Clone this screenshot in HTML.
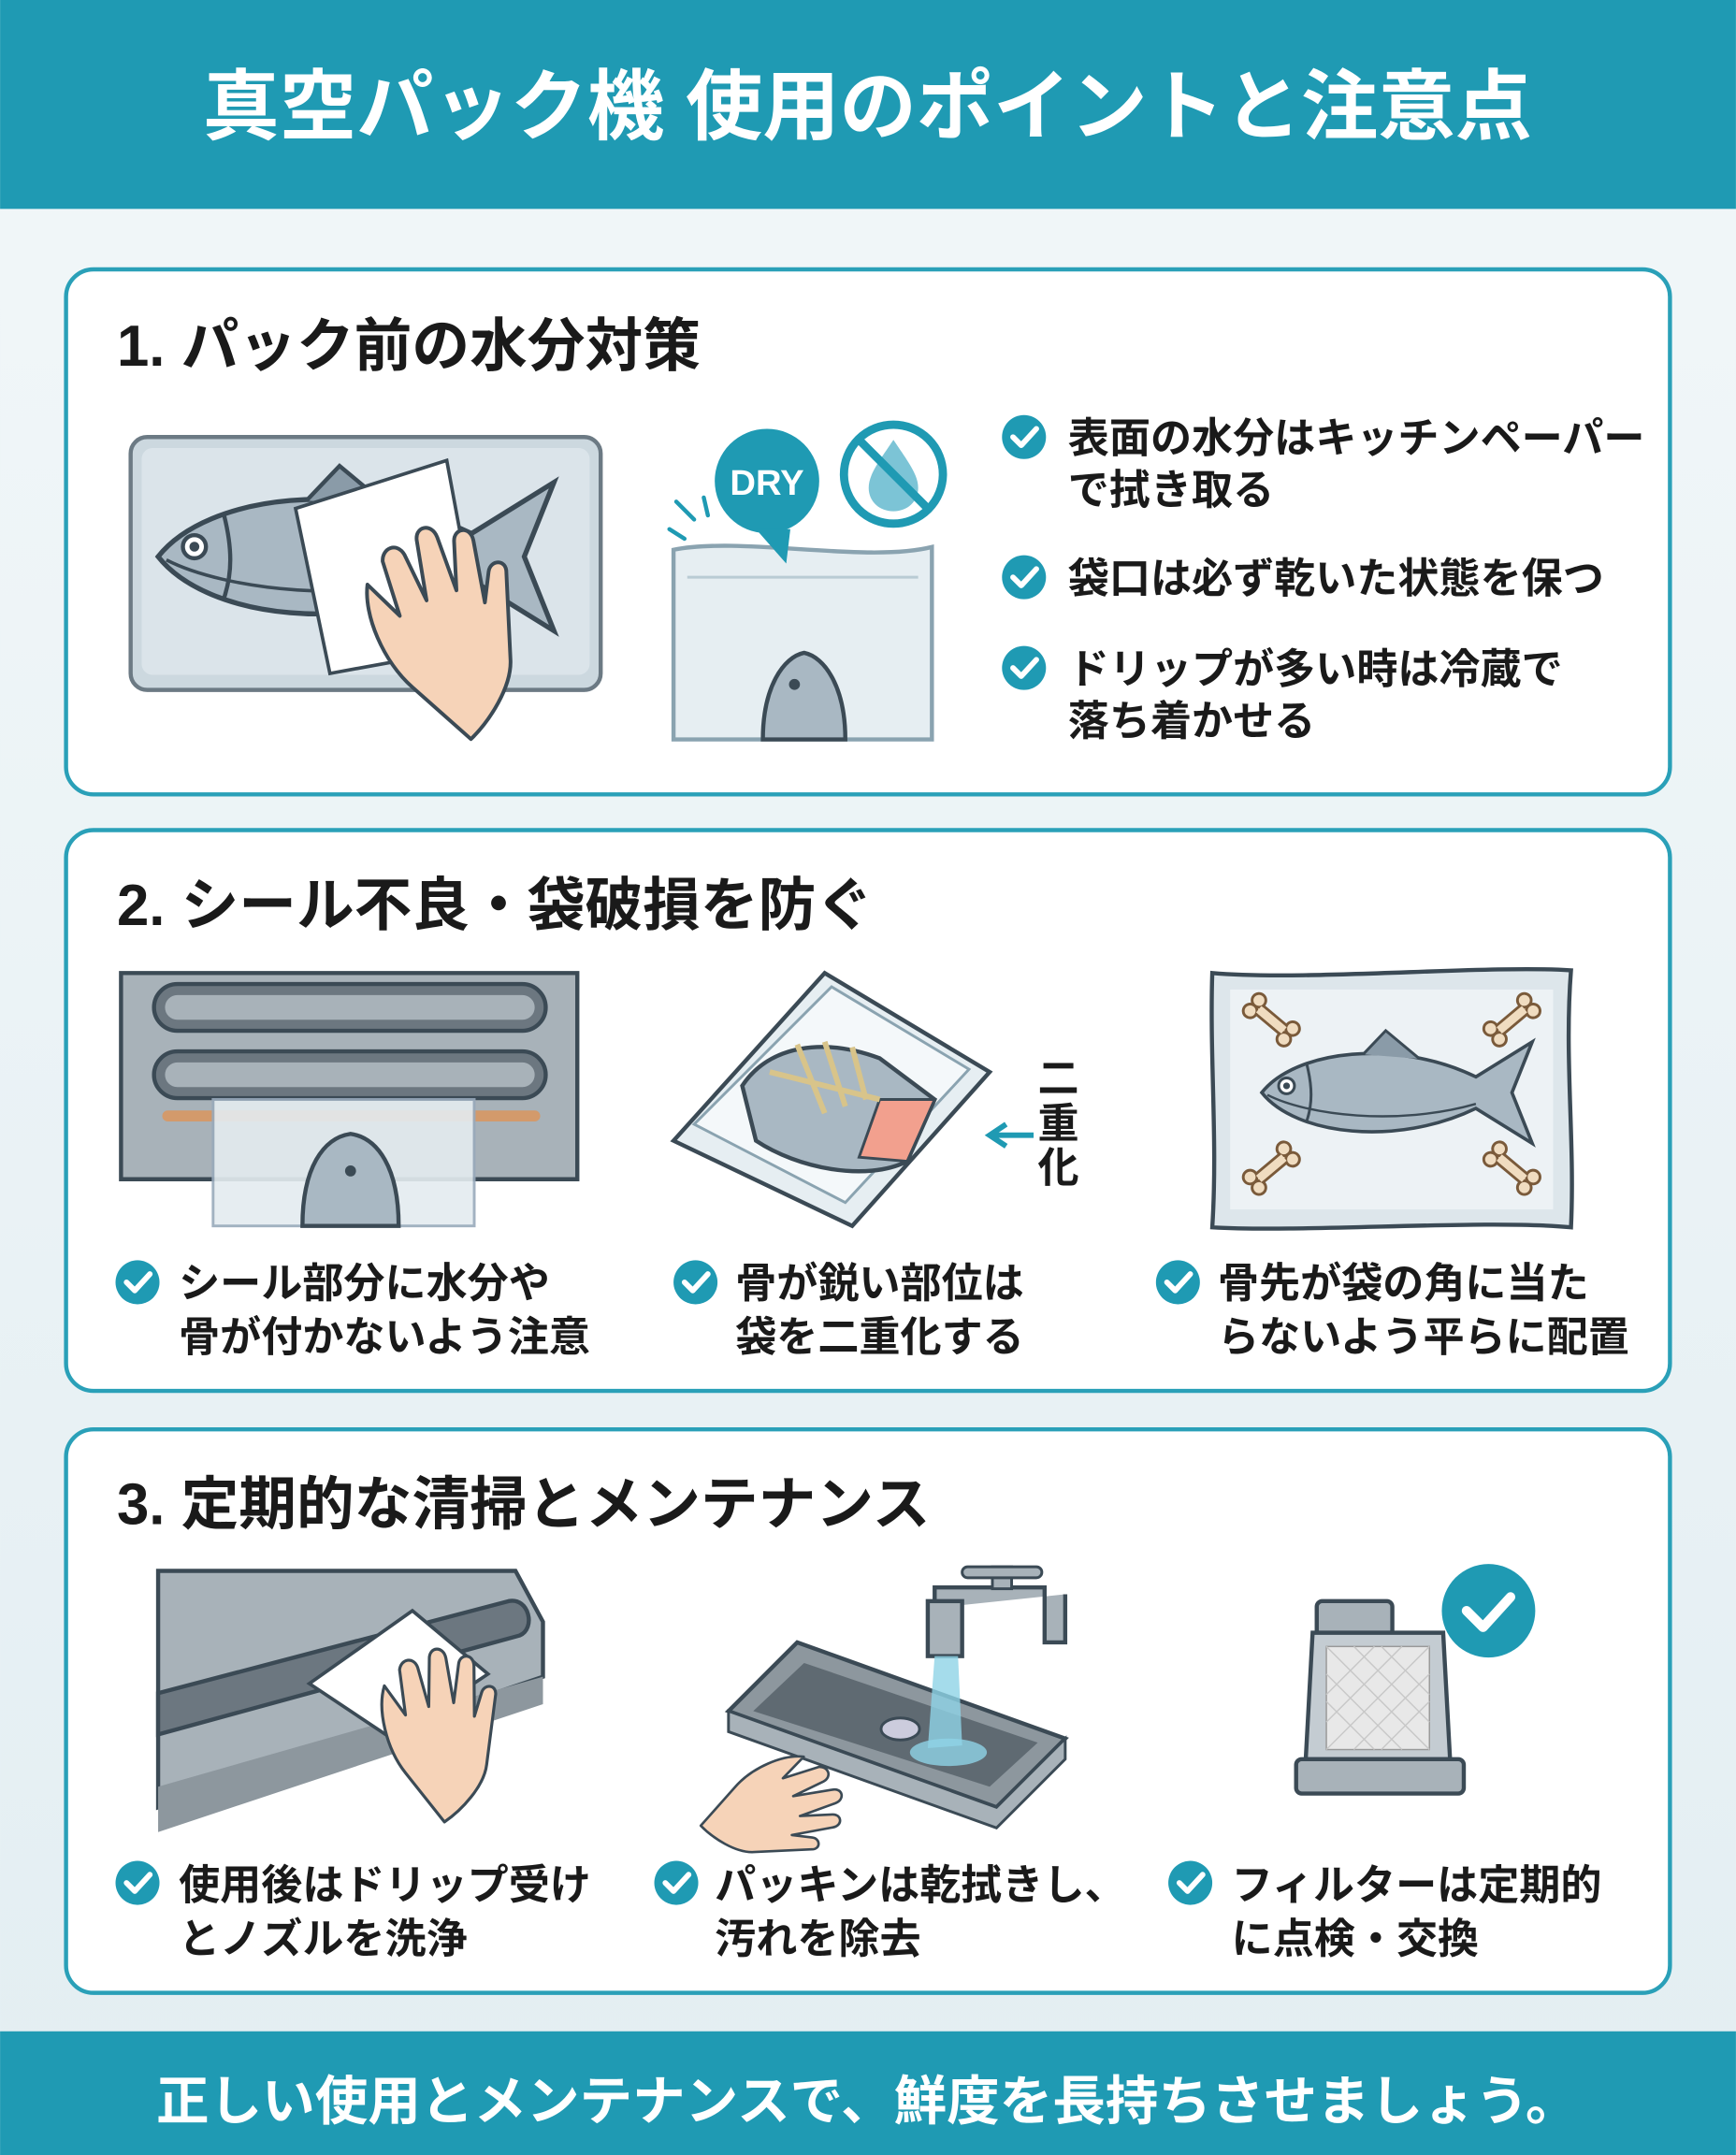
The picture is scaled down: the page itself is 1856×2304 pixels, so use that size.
<!DOCTYPE html>
<html><head><meta charset="utf-8"><style>
html,body{margin:0;padding:0;width:1856px;height:2304px;overflow:hidden;background:#eaf3f6}
svg{display:block}
text{font-family:"Liberation Sans","Noto Sans CJK JP",sans-serif;font-weight:bold}
</style></head><body>
<svg width="1856" height="2304" viewBox="0 0 1263 1568" xmlns="http://www.w3.org/2000/svg">
<defs>
<linearGradient id="bg" x1="0" y1="0" x2="0" y2="1"><stop offset="0" stop-color="#f2f7f9"/><stop offset="1" stop-color="#e3eef2"/></linearGradient>
<g id="fish">
<path d="M0,0 C30,-38 120,-48 190,-14 L240,-45 L222,0 L240,45 L190,14 C120,48 30,38 0,0 Z" fill="#a9b8c3" stroke="#3b4a55" stroke-width="3"/>
<path d="M5,2 C40,20 120,30 190,10" fill="none" stroke="#3b4a55" stroke-width="2"/>
<path d="M40,-25 C45,-5 45,10 40,25" fill="none" stroke="#3b4a55" stroke-width="2.5"/>
<path d="M90,-34 L110,-55 L140,-30" fill="#8a9ba8" stroke="#3b4a55" stroke-width="2.5"/>
<circle cx="22" cy="-6" r="7" fill="#fff" stroke="#3b4a55" stroke-width="2.5"/><circle cx="22" cy="-6" r="3" fill="#3b4a55"/>
</g>
<g id="chk"><circle r="16" fill="#1f9ab3"/><path d="M-8,0 L-2,6 L9,-6" fill="none" stroke="#fff" stroke-width="4" stroke-linecap="round" stroke-linejoin="round"/></g>
<g id="bone"><rect x="-14" y="-4" width="28" height="8" fill="#f0dcc0" stroke="#7a5a3a" stroke-width="2"/><circle cx="-16" cy="-5" r="5" fill="#f0dcc0" stroke="#7a5a3a" stroke-width="2"/><circle cx="-16" cy="5" r="5" fill="#f0dcc0" stroke="#7a5a3a" stroke-width="2"/><circle cx="16" cy="-5" r="5" fill="#f0dcc0" stroke="#7a5a3a" stroke-width="2"/><circle cx="16" cy="5" r="5" fill="#f0dcc0" stroke="#7a5a3a" stroke-width="2"/><rect x="-12" y="-3" width="24" height="6" fill="#f0dcc0"/></g>
<g id="hand"><path d="M0,0 C-10,-30 -5,-70 10,-90 L20,-55 L30,-100 C35,-110 48,-108 48,-96 L45,-55 L62,-100 C66,-112 80,-108 78,-95 L70,-50 L88,-85 C93,-95 106,-90 102,-78 L85,-30 L100,-50 C106,-58 118,-52 112,-42 L80,20 C70,40 40,55 20,60 Z" fill="#f6d3b8" stroke="#3b4a55" stroke-width="3" stroke-linejoin="round"/></g>
</defs>
<rect width="1263" height="1568" fill="url(#bg)"/>
<rect x="0" y="0" width="1263" height="152" fill="#1f9ab3"/>
<text x="631" y="97" font-size="56" fill="#fff" text-anchor="middle">真空パック機 使用のポイントと注意点</text>

<!-- Card 1 -->
<rect x="48" y="196" width="1167" height="382" rx="20" fill="#fff" stroke="#2aa0b8" stroke-width="3"/>
<text x="85" y="266" font-size="42" fill="#1a1a1a">1. パック前の水分対策</text>
<rect x="95" y="318" width="342" height="184" rx="12" fill="#ccd8df" stroke="#6c7a84" stroke-width="3"/>
<rect x="103" y="326" width="326" height="165" rx="8" fill="#dbe4ea"/>
<use href="#fish" transform="translate(115,405) scale(1.2)"/>
<path d="M215,370 L325,335 L350,470 L240,490 Z" fill="#fff" stroke="#3b4a55" stroke-width="2.5"/>
<use href="#hand" transform="translate(300,500) rotate(-30) scale(0.9)"/>
<path d="M490,400 C540,390 630,410 678,398 L678,538 L490,538 Z" fill="#e6eef2" stroke="#8aa3b0" stroke-width="3"/>
<path d="M500,420 L668,420" stroke="#b9cbd4" stroke-width="2"/>
<path d="M555,538 C555,500 570,478 585,475 C600,478 615,500 615,538 Z" fill="#a9b8c3" stroke="#3b4a55" stroke-width="3"/>
<circle cx="578" cy="498" r="4" fill="#3b4a55"/>
<path d="M487,385 L498,392 M492,365 L505,378 M512,362 L515,375" stroke="#1f9ab3" stroke-width="3" stroke-linecap="round"/>
<circle cx="558" cy="350" r="38" fill="#1f9ab3"/><path d="M550,385 L572,410 L575,385 Z" fill="#1f9ab3"/>
<text x="558" y="360" font-size="26" fill="#fff" text-anchor="middle">DRY</text>
<circle cx="650" cy="345" r="36" fill="#fff" stroke="#1f9ab3" stroke-width="6"/>
<path d="M650,320 C640,335 632,345 632,355 C632,365 640,372 650,372 C660,372 668,365 668,355 C668,345 660,335 650,320 Z" fill="#7cc4d6"/>
<path d="M625,320 L675,370" stroke="#1f9ab3" stroke-width="6"/>
<use href="#chk" transform="translate(745,318)"/>
<text x="777" y="329" font-size="30" fill="#1a1a1a">表面の水分はキッチンペーパー</text>
<text x="777" y="367" font-size="30" fill="#1a1a1a">で拭き取る</text>
<use href="#chk" transform="translate(745,420)"/>
<text x="777" y="431" font-size="30" fill="#1a1a1a">袋口は必ず乾いた状態を保つ</text>
<use href="#chk" transform="translate(745,486)"/>
<text x="777" y="497" font-size="30" fill="#1a1a1a">ドリップが多い時は冷蔵で</text>
<text x="777" y="535" font-size="30" fill="#1a1a1a">落ち着かせる</text>

<!-- Card 2 -->
<rect x="48" y="604" width="1167" height="408" rx="20" fill="#fff" stroke="#2aa0b8" stroke-width="3"/>
<text x="85" y="673" font-size="42" fill="#1a1a1a">2. シール不良・袋破損を防ぐ</text>
<path d="M88,708 L420,708 L420,858 L88,858 Z" fill="#a8b2b9" stroke="#3b4a55" stroke-width="3"/>
<rect x="112" y="716" width="285" height="34" rx="17" fill="#6c7780" stroke="#3b4a55" stroke-width="3"/>
<rect x="120" y="724" width="269" height="18" rx="9" fill="#a8b2b9"/>
<rect x="112" y="765" width="285" height="34" rx="17" fill="#6c7780" stroke="#3b4a55" stroke-width="3"/>
<rect x="120" y="773" width="269" height="18" rx="9" fill="#a8b2b9"/>
<rect x="118" y="808" width="275" height="8" rx="4" fill="#d39a6b"/>
<rect x="155" y="800" width="190" height="92" fill="#e4ecf0" opacity="0.9" stroke="#9ab" stroke-width="2"/>
<path d="M220,892 C220,850 235,828 255,825 C275,828 290,850 290,892 Z" fill="#a9b8c3" stroke="#3b4a55" stroke-width="3"/>
<circle cx="255" cy="852" r="4" fill="#3b4a55"/>
<path d="M490,830 L600,708 L720,780 L620,892 Z" fill="#e6eef2" stroke="#3b4a55" stroke-width="3"/>
<path d="M505,818 L605,718 L705,778 L615,875 Z" fill="#f4f8fa" stroke="#8aa3b0" stroke-width="2"/>
<path d="M540,790 C560,760 600,755 640,770 L680,800 L660,845 C630,860 580,850 550,830 Z" fill="#a9b8c3" stroke="#3b4a55" stroke-width="3"/>
<path d="M640,800 L680,800 L660,845 L625,842 Z" fill="#f2a08e" stroke="#3b4a55" stroke-width="2"/>
<path d="M560,780 L640,800 M580,760 L600,810 M600,758 L615,805 M620,762 L630,800" stroke="#d8c48a" stroke-width="4"/>
<text x="770" y="795" font-size="30" fill="#1a1a1a" text-anchor="middle">二</text>
<text x="770" y="828" font-size="30" fill="#1a1a1a" text-anchor="middle">重</text>
<text x="770" y="860" font-size="30" fill="#1a1a1a" text-anchor="middle">化</text>
<path d="M752,826 L722,826 M732,818 L720,826 L732,834" fill="none" stroke="#1f9ab3" stroke-width="4"/>
<path d="M882,708 C950,714 1080,702 1143,706 C1138,770 1146,830 1143,893 C1080,887 950,897 882,893 C886,830 880,770 882,708 Z" fill="#dde6eb" stroke="#3b4a55" stroke-width="3"/>
<rect x="895" y="720" width="235" height="160" fill="#edf2f5"/>
<use href="#fish" transform="translate(918,795) scale(0.82)"/>
<use href="#bone" transform="translate(925,742) rotate(40)"/>
<use href="#bone" transform="translate(1100,742) rotate(-40)"/>
<use href="#bone" transform="translate(925,850) rotate(-40)"/>
<use href="#bone" transform="translate(1100,850) rotate(40)"/>
<use href="#chk" transform="translate(100,933)"/>
<text x="130" y="944" font-size="30" fill="#1a1a1a">シール部分に水分や</text>
<text x="130" y="983" font-size="30" fill="#1a1a1a">骨が付かないよう注意</text>
<use href="#chk" transform="translate(506,933)"/>
<text x="535" y="944" font-size="30" fill="#1a1a1a">骨が鋭い部位は</text>
<text x="535" y="983" font-size="30" fill="#1a1a1a">袋を二重化する</text>
<use href="#chk" transform="translate(857,933)"/>
<text x="886" y="944" font-size="30" fill="#1a1a1a">骨先が袋の角に当た</text>
<text x="886" y="983" font-size="30" fill="#1a1a1a">らないよう平らに配置</text>

<!-- Card 3 -->
<rect x="48" y="1040" width="1167" height="410" rx="20" fill="#fff" stroke="#2aa0b8" stroke-width="3"/>
<text x="85" y="1109" font-size="42" fill="#1a1a1a">3. 定期的な清掃とメンテナンス</text>
<path d="M115,1143 L375,1143 L395,1180 L395,1220 L115,1315 Z" fill="#a8b2b9" stroke="#3b4a55" stroke-width="3"/>
<path d="M115,1232 L370,1165 C385,1162 390,1185 378,1190 L115,1262 Z" fill="#6c7780" stroke="#3b4a55" stroke-width="3"/>
<path d="M115,1300 L395,1220 L395,1240 L115,1333 Z" fill="#8d979e"/>
<path d="M225,1225 L300,1172 L355,1218 L285,1265 Z" fill="#fff" stroke="#3b4a55" stroke-width="2.5"/>
<use href="#hand" transform="translate(295,1290) rotate(-20) scale(0.72)"/>
<path d="M530,1245 L580,1195 L775,1265 L725,1315 Z" fill="#8d979e" stroke="#3b4a55" stroke-width="3"/>
<path d="M548,1245 L585,1210 L755,1268 L720,1300 Z" fill="#5f6a72"/>
<path d="M530,1245 L530,1260 L725,1330 L775,1280 L775,1265 L725,1315 Z" fill="#a8b2b9" stroke="#3b4a55" stroke-width="2"/>
<ellipse cx="655" cy="1258" rx="14" ry="8" fill="#ccd" stroke="#3b4a55" stroke-width="2"/>
<path d="M680,1170 L680,1155 L760,1155 L760,1195 L775,1195 L775,1160" fill="#a8b2b9" stroke="#3b4a55" stroke-width="3"/>
<rect x="675" y="1165" width="25" height="40" fill="#a8b2b9" stroke="#3b4a55" stroke-width="3"/>
<rect x="722" y="1140" width="14" height="16" fill="#a8b2b9" stroke="#3b4a55" stroke-width="2"/>
<rect x="700" y="1140" width="58" height="8" rx="4" fill="#a8b2b9" stroke="#3b4a55" stroke-width="2"/>
<path d="M680,1205 L697,1205 L700,1270 L675,1272 Z" fill="#8fd3e6" opacity="0.8"/>
<ellipse cx="690" cy="1275" rx="28" ry="10" fill="#8fd3e6" opacity="0.8"/>
<use href="#hand" transform="translate(535,1300) rotate(60) scale(0.6)"/>
<rect x="958" y="1165" width="55" height="25" rx="4" fill="#a8b2b9" stroke="#3b4a55" stroke-width="3"/>
<path d="M955,1188 L1050,1188 L1055,1280 L950,1280 Z" fill="#c4ccd2" stroke="#3b4a55" stroke-width="3"/>
<rect x="965" y="1198" width="75" height="75" fill="#e8e8e8" stroke="#999" stroke-width="1"/>
<path d="M965,1198 L1040,1273 M985,1198 L1040,1253 M1005,1198 L1040,1233 M965,1218 L1020,1273 M965,1238 L1000,1273 M1040,1198 L965,1273 M1020,1198 L965,1253 M1000,1198 L965,1233 M1040,1218 L985,1273 M1040,1238 L1005,1273" stroke="#c8c8c8" stroke-width="1"/>
<rect x="943" y="1280" width="122" height="25" rx="4" fill="#a8b2b9" stroke="#3b4a55" stroke-width="3"/>
<circle cx="1083" cy="1172" r="34" fill="#1f9ab3"/>
<path d="M1067,1172 L1079,1184 L1099,1162" fill="none" stroke="#fff" stroke-width="7" stroke-linecap="round" stroke-linejoin="round"/>
<use href="#chk" transform="translate(100,1370)"/>
<text x="130" y="1382" font-size="30" fill="#1a1a1a">使用後はドリップ受け</text>
<text x="130" y="1421" font-size="30" fill="#1a1a1a">とノズルを洗浄</text>
<use href="#chk" transform="translate(492,1370)"/>
<text x="520" y="1382" font-size="30" fill="#1a1a1a">パッキンは乾拭きし、</text>
<text x="520" y="1421" font-size="30" fill="#1a1a1a">汚れを除去</text>
<use href="#chk" transform="translate(866,1370)"/>
<text x="896" y="1382" font-size="30" fill="#1a1a1a">フィルターは定期的</text>
<text x="896" y="1421" font-size="30" fill="#1a1a1a">に点検・交換</text>

<rect x="0" y="1478" width="1263" height="90" fill="#1f9ab3"/>
<text x="631" y="1542" font-size="38.5" fill="#fff" text-anchor="middle">正しい使用とメンテナンスで、鮮度を長持ちさせましょう。</text>
</svg>
</body></html>
